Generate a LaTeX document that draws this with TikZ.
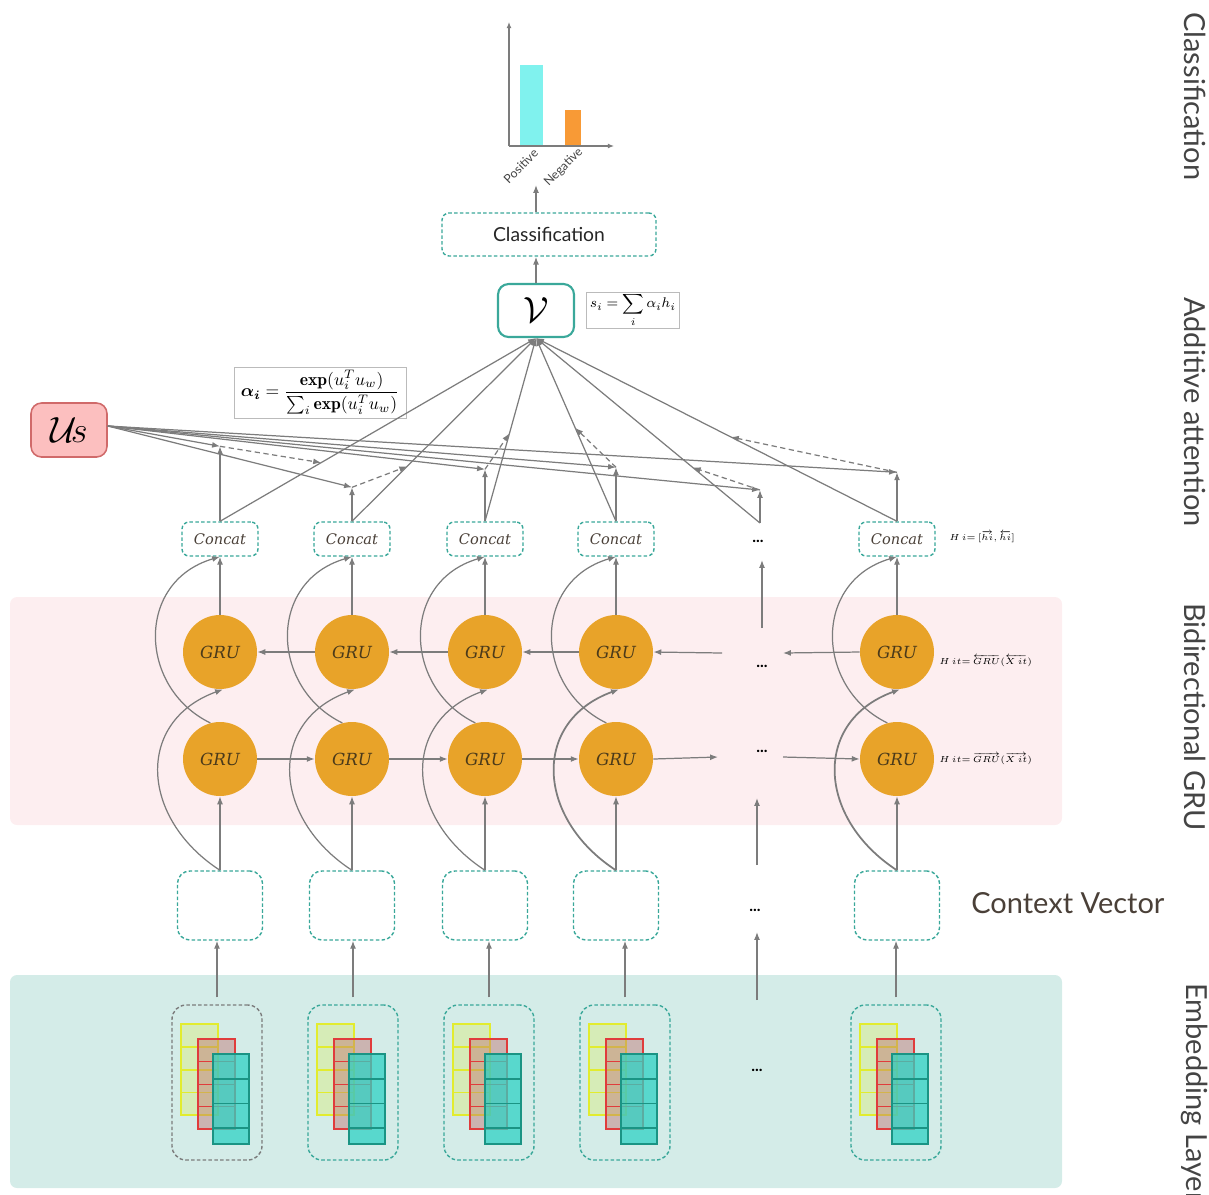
\documentclass[tikz,border=0pt]{standalone}
\usepackage{amsmath}
\usepackage{fontspec}
\usetikzlibrary{arrows.meta,calc}
\newfontfamily\latofont{Lato}
\newfontfamily\serifit{DejaVu Serif}
\definecolor{linegray}{HTML}{7C7C7C}
\definecolor{tealline}{HTML}{3AA89A}
\definecolor{grufill}{HTML}{E8A329}
\definecolor{grutext}{HTML}{4B3A1A}
\definecolor{conctext}{HTML}{4A4038}
\definecolor{pinkband}{HTML}{FDEEF0}
\definecolor{tealband}{HTML}{D4ECE8}
\definecolor{usfill}{HTML}{FCBFBF}
\definecolor{usline}{HTML}{D06A6A}
\definecolor{barcyan}{HTML}{80F2EE}
\definecolor{barorange}{HTML}{F89A36}
\definecolor{sidegray}{HTML}{444444}
\definecolor{boxgray}{HTML}{BBBBBB}
\definecolor{embyfill}{HTML}{D7EDB2}
\definecolor{embyline}{HTML}{E2EC2E}
\definecolor{embrfill}{HTML}{C27070}
\definecolor{embrline}{HTML}{E03C3C}
\definecolor{embtfill}{HTML}{2FD2C4}
\definecolor{embtline}{HTML}{1A9484}

% three stacked word-vector panels inside an embedding box
\newcommand\EmbStack[1]{%
  \path (#1.north west) coordinate (#1o);
  \filldraw[fill=embyfill,fill opacity=0.9,draw=embyline,line width=1.3pt]
    ($(#1o)+(10,20)$) rectangle ($(#1o)+(47,111)$);
  \foreach \k in {1,2,3}
    \draw[embyline,line width=0.8pt] ($(#1o)+(10,{20+22.75*\k})$) -- ++(37,0);
  \filldraw[fill=embrfill,fill opacity=0.45,draw=embrline,line width=1.2pt]
    ($(#1o)+(27,35)$) rectangle ($(#1o)+(64,125)$);
  \foreach \k in {1,2,3}
    \draw[embrline,line width=0.7pt] ($(#1o)+(27,{35+22.5*\k})$) -- ++(37,0);
  \filldraw[fill=embtfill,fill opacity=0.75,draw=embtline,line width=1.3pt]
    ($(#1o)+(42,50)$) rectangle ($(#1o)+(78,140)$);
  \foreach \k in {1,2,3}
    \draw[embtline,line width=0.8pt] ($(#1o)+(42,{50+24.5*\k})$) -- ++(36,0);
}

\begin{document}
\begin{tikzpicture}[x=0.02cm,y=-0.02cm,
  conn/.style={draw=linegray,line width=0.7pt},
  arr/.style={conn,-{Latex[length=4.5pt,width=3.4pt]}},
  dasharr/.style={arr,dash pattern=on 3pt off 2pt},
  tealdash/.style={draw=tealline,line width=0.8pt,dash pattern=on 2pt off 1.3pt},
  concatbox/.style={tealdash,fill=white,rounded corners=4pt,minimum width=1.52cm,minimum height=0.68cm,inner sep=0pt,font=\serifit\itshape\fontsize{8.3}{9}\selectfont,text=conctext},
  ctxbox/.style={tealdash,fill=white,rounded corners=7pt,minimum width=1.7cm,minimum height=1.38cm},
  embbox/.style={tealdash,rounded corners=8pt,minimum width=1.8cm,minimum height=3.1cm},
  grunode/.style={circle,fill=grufill,minimum size=1.48cm,inner sep=0pt,font=\serifit\itshape\fontsize{9.5}{10}\selectfont,text=grutext},
  sidelabel/.style={rotate=-90,anchor=west,inner sep=0pt,font=\latofont\fontsize{16.5}{18}\selectfont,text=sidegray},
  dotsnode/.style={inner sep=0pt,font=\latofont\bfseries\fontsize{9}{9}\selectfont},
  formbox/.style={draw=boxgray,line width=0.4pt,fill=white,inner sep=0pt},
  hlabel/.style={anchor=west,inner sep=0pt,font=\fontsize{5}{6}\selectfont},
  barlabel/.style={rotate=45,anchor=east,inner sep=0pt,font=\latofont\fontsize{7}{8}\selectfont,text=sidegray}
]
\useasboundingbox (0,0) rectangle (1209,1194);

% layer bands
\fill[pinkband,rounded corners=4pt] (10,597) rectangle (1062,825);
\fill[tealband,rounded corners=4pt] (10,975) rectangle (1062,1188);

% layer names on the right
\node[sidelabel] (labCls) at (1195,12) {Classification};
\node[sidelabel] (labAtt) at (1195,297) {Additive attention};
\node[sidelabel] (labGRU) at (1195,603) {Bidirectional GRU};
\node[sidelabel] (labEmb) at (1195,983) {Embedding Layer};

% output bar chart
\coordinate (ax0) at (509,146);
\coordinate (axY) at (509,22);
\coordinate (axX) at (614,146);
\fill[barcyan] (520,65) rectangle (543,146);
\fill[barorange] (565,110) rectangle (581,146);
\draw[conn,line width=0.6pt,-{Latex[length=3.5pt,width=2.8pt]}] (ax0) -- (axY);
\draw[conn,line width=0.6pt,-{Latex[length=3.5pt,width=2.8pt]}] (ax0) -- (axX);
\node[barlabel] (lpos) at (536,151) {Positive};
\node[barlabel] (lneg) at (581,150) {Negative};

% classification and attention output
\node[tealdash,rounded corners=4pt,minimum width=4.28cm,minimum height=0.86cm,inner sep=0pt,
      font=\latofont\fontsize{11}{12}\selectfont,text=black!85] (cls) at (549,234.5) {Classification};
\node[draw=tealline,line width=1.2pt,fill=white,rounded corners=6pt,minimum width=1.52cm,
      minimum height=1.06cm,inner sep=0pt] (V) at (536,310.5) {\fontsize{22}{24}\selectfont$\mathcal{V}$};
\node[formbox,minimum width=1.6cm,minimum height=0.72cm,inner xsep=2pt] (sform) at (633,310)
  {\fontsize{8}{9}\selectfont$\displaystyle s_i=\sum_i\alpha_i h_i$};
\node[formbox,minimum width=3.44cm,minimum height=1.02cm] (aform) at (320,392.5)
  {\fontsize{10}{12}\selectfont$\displaystyle \boldsymbol{\alpha_i}=\frac{\mathbf{exp}(u_i^T u_w)}{\sum_i\mathbf{exp}(u_i^T u_w)}$};
\node[draw=usline,line width=0.9pt,fill=usfill,rounded corners=6pt,minimum width=1.52cm,
      minimum height=1.08cm,inner sep=0pt] (Us) at (69,430) {\fontsize{20}{22}\selectfont$\mathcal{U}\!s$};

\coordinate (chartIn) at (536,185);
\draw[arr] (V.north) -- (V.north |- cls.south);
\draw[arr] (V.north |- cls.north) -- (chartIn);

% per-position nodes
\foreach \n/\x in {1/220,2/352,3/485,4/616,6/897}{
  \node[concatbox] (cc\n) at (\x,539) {Concat};
  \node[grunode] (gt\n) at (\x,652) {GRU};
  \node[grunode] (gb\n) at (\x,759) {GRU};
  \node[ctxbox] (x\n) at (\x,905.5) {};
}
\node[embbox,draw=linegray] (e1) at (217,1082.5) {};
\foreach \n/\x in {2/353,3/489,4/625,6/896}{
  \node[embbox] (e\n) at (\x,1082.5) {};
}
\foreach \n in {1,2,3,4,6}{\EmbStack{e\n}}

% elided positions
\node[dotsnode] (d5c) at (758,541) {...};
\node[dotsnode] (d5t) at (762,666) {...};
\node[dotsnode] (d5b) at (762,751) {...};
\node[dotsnode] (d5x) at (755,910) {...};
\node[dotsnode] (d5e) at (757,1070) {...};
\coordinate (d5tUp) at (762,628);
\coordinate (d5cIn) at (762,560);
\coordinate (d5bLow) at (757,865);
\coordinate (d5bIn) at (757,798);
\coordinate (d5xLow) at (757,1000);
\coordinate (d5xIn) at (757,932);
\draw[arr] (d5tUp) -- (d5cIn);
\draw[arr] (d5bLow) -- (d5bIn);
\draw[arr] (d5xLow) -- (d5xIn);

% side notes
\node[hlabel] (hc) at (949,537) {$H\,i{=}\,[\overrightarrow{hi},\overleftarrow{hi}]$};
\node[hlabel] (hgt) at (939,661) {$H\,it{=}\,\overleftarrow{GRU}(\overleftarrow{X\,it})$};
\node[hlabel] (hgb) at (939,759) {$H\,it{=}\,\overrightarrow{GRU}(\overrightarrow{X\,it})$};
\node[anchor=west,inner sep=0pt,font=\latofont\fontsize{16.5}{18}\selectfont,text=conctext] (cvlab) at (971,903) {Context Vector};

% vertical flow in each position
\foreach \n/\w in {1/0.7,2/0.7,3/0.7,4/1.0,6/1.0}{
  \draw[arr] ($(e\n.north)+(0,-7)$) -- (e\n.north |- x\n.south);
  \draw[arr] (x\n.north) -- (gb\n.south);
  \draw[arr] (gt\n.north) -- (cc\n.south);
  \draw[arr,line width=\w pt] (x\n.north) .. controls +(-80,-52) and +(-88,32) .. ($(gt\n.south)+(3,0)$);
  \draw[arr] (gb\n.105) .. controls +(-72,-35) and +(-85,25) .. (cc\n.south);
}

% recurrent links
\draw[arr] (gt2.west) -- (gt1.east);
\draw[arr] (gt3.west) -- (gt2.east);
\draw[arr] (gt4.west) -- (gt3.east);
\coordinate (tIn5) at (722,653);
\coordinate (tOut6) at (783,653);
\draw[arr] (tIn5) -- (gt4.east);
\draw[arr] (gt6.west) -- (tOut6);
\draw[arr] (gb1.east) -- (gb2.west);
\draw[arr] (gb2.east) -- (gb3.west);
\draw[arr] (gb3.east) -- (gb4.west);
\coordinate (bOut4) at (718,757);
\coordinate (bIn6) at (783,757);
\draw[arr] (gb4.east) -- (bOut4);
\draw[arr] (bIn6) -- (gb6.west);

% additive attention
\foreach \n in {1,2,3,4,6}{\coordinate (t\n) at (cc\n.north);}
\coordinate (t5) at (760,523);
\coordinate (usOut) at ($(Us.east)+(0,-4)$);
\foreach \n/\up/\fr in {1/75/0.32,2/34/0.30,3/52/0.48,4/54/0.51,5/33/0.30,6/49/0.46}{
  \coordinate (j\n) at ($(t\n)+(0,-\up)$);
  \draw[arr] (t\n) -- (V.south);
  \draw[arr] (t\n) -- (j\n);
  \draw[arr] (usOut) -- (j\n);
  \draw[dasharr] (j\n) -- ($(t\n)!\fr!(V.south)$);
}
\end{tikzpicture}
\end{document}
